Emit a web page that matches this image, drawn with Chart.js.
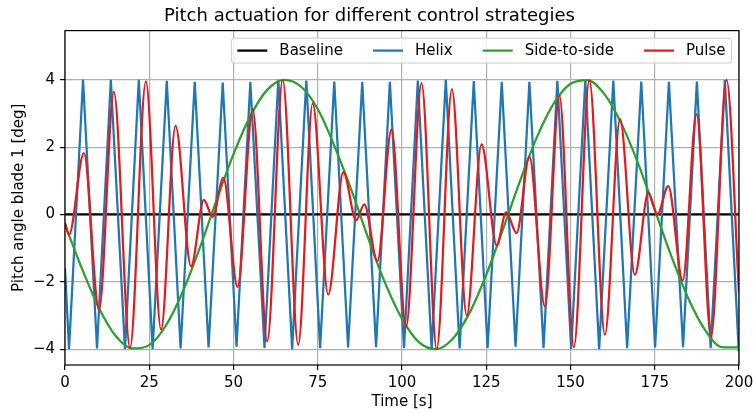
<!DOCTYPE html>
<html>
<head>
<meta charset="utf-8">
<title>Pitch actuation</title>
<script src="https://cdn.jsdelivr.net/npm/chart.js@4.4.0/dist/chart.umd.min.js"></script>
<style>
  html, body { margin: 0; padding: 0; background: #ffffff; }
</style>
</head>
<body>
<canvas id="grafico" width="753" height="412"></canvas>
<script>

// eixos
var tituloGrafico = 'Pitch actuation for different control strategies'
var xTicks = [0, 25, 50, 75, 100, 125, 150, 175, 200]
var yTicks = [-4, -2, 0, 2, 4]

// Baseline
var baseTempo = [0, 200]
var baseAngulo = [0, 0]

// Helix (vertices da onda)
var helixTempo = [0, 1.2, 5.35, 9.5, 13.6, 17.8, 21.9, 26.0, 30.2, 34.3, 38.5, 42.6, 46.8, 50.9, 55.0, 59.2,
  63.3, 67.4, 71.6, 75.7, 79.9, 84.0, 88.2, 92.3, 96.4, 100.6, 104.7, 108.8, 113.0, 117.1, 121.3, 125.4,
  129.6, 133.7, 137.8, 142.0, 146.1, 150.2, 154.4, 158.5, 162.7, 166.8, 171.0, 175.1, 179.2, 183.4,
  187.5, 191.6, 195.8, 199.9, 200]
var helixAngulo = [-1.6, -4.0, 4.0, -3.98, 4.0, -4.0, 4.0, -4.0, 3.97, -3.98, 3.94, -3.95, 3.92, -3.93, 3.93, -3.96,
  4.0, -4.0, 3.98, -3.97, 3.95, -3.95, 3.93, -3.94, 3.94, -3.97, 3.98, -4.0, 4.0, -3.98, 3.96, -3.96,
  3.93, -3.93, 3.94, -3.96, 3.97, -3.99, 4.0, -4.0, 3.98, -3.97, 3.95, -3.95, 3.94, -3.94,
  3.95, -3.97, 3.99, -4.0, -3.99]

// Side-to-side
var sideTempo = [0, 5, 10, 15, 20, 25, 30, 35, 40, 45, 50, 55, 60, 65, 70, 75, 80, 85, 90, 95, 100,
  105, 110, 115, 120, 125, 130, 135, 140, 145, 150, 155, 160, 165, 170, 175, 180, 185, 190, 195, 200]
var sideAngulo = [-0.3, -1.6, -2.76, -3.6, -3.98, -3.88, -3.29, -2.28, -0.99, 0.43, 1.79, 2.92, 3.7, 4.0,
  3.8, 3.13, 2.02, 0.72, -0.71, -2.04, -3.1, -3.79, -4.0, -3.7, -2.93, -1.79, -0.43, 0.99, 2.29, 3.29,
  3.88, 3.99, 3.58, 2.72, 1.53, 0.14, -1.26, -2.5, -3.44, -3.94, -3.95]

// Pulse (maximos e minimos)
var pulseTempo = [0, 1.2, 5.6, 10.1, 14.5, 19.3, 24.0, 28.5, 32.8, 37.4, 41.2, 43.8, 47.0, 51.2, 55.7,
  60.0, 64.6, 69.2, 73.5, 78.1, 82.6, 86.4, 88.8, 92.7, 96.9, 101.2, 105.8, 110.3, 114.8, 119.2, 123.6,
  128.1, 130.9, 134.0, 137.8, 142.4, 146.7, 151.0, 155.6, 160.2, 164.7, 169.1, 173.1, 175.8, 179.0,
  183.3, 187.4, 191.7, 196.3, 200]
var pulseAngulo = [-0.25, -0.6, 1.82, -2.83, 3.64, -3.96, 3.95, -3.42, 2.63, -1.54, 0.43, -0.07, 1.09, -2.15, 3.12,
  -3.77, 4.0, -3.87, 3.3, -2.38, 1.26, -0.17, 0.3, -1.39, 2.53, -3.35, 3.9, -4.0, 3.72, -3.0, 2.08,
  -0.92, 0.07, -0.55, 1.72, -2.73, 3.54, -3.94, 3.99, -3.57, 2.83, -1.79, 0.65, 0.0, 0.84,
  -1.96, 2.98, -3.62, 4.0, -2.33]

var fonte = 'DejaVu Sans'

function juntar(tempo, angulo) {
  var pontos = []
  for (let i = 0; i < tempo.length; i++) {
    pontos.push({ x: tempo[i], y: angulo[i] })
  }
  return pontos
}

function menos(v) {
  return String(v).replace('-', '\u2212')
}

// moldura preta em volta da area do grafico
const moldura = {
  id: 'moldura',
  afterDatasetsDraw(chart) {
    var a = chart.chartArea
    var ctx = chart.ctx
    ctx.save()
    ctx.strokeStyle = '#000000'
    ctx.lineWidth = 1.2
    ctx.strokeRect(a.left, a.top, a.right - a.left, a.bottom - a.top)
    ctx.restore()
  }
}

// legenda dentro do grafico, no canto de cima
const legendaDentro = {
  id: 'legendaDentro',
  afterDraw(chart) {
    var ctx = chart.ctx
    var a = chart.chartArea
    var fs = 15
    var pad = 6, alca = 30, alcaTexto = 12, colunas = 30
    ctx.save()
    ctx.font = fs + 'px ' + fonte
    var sets = chart.data.datasets
    var larguras = sets.map(d => ctx.measureText(d.label).width)
    var total = pad * 2
    for (let i = 0; i < sets.length; i++) {
      total += alca + alcaTexto + larguras[i]
      if (i > 0) total += colunas
    }
    var altura = 25
    var x0 = a.right - 7.5 - total
    var y0 = a.top + 7.5
    ctx.beginPath()
    ctx.roundRect(x0, y0, total, altura, 3)
    ctx.fillStyle = 'rgba(255,255,255,0.8)'
    ctx.fill()
    ctx.strokeStyle = '#cccccc'
    ctx.lineWidth = 1
    ctx.stroke()
    var x = x0 + pad
    var ym = y0 + altura / 2
    for (let i = 0; i < sets.length; i++) {
      ctx.beginPath()
      ctx.moveTo(x, ym)
      ctx.lineTo(x + alca, ym)
      ctx.strokeStyle = sets[i].borderColor
      ctx.lineWidth = 2.25
      ctx.stroke()
      x += alca + alcaTexto
      ctx.fillStyle = '#000000'
      ctx.textBaseline = 'middle'
      ctx.fillText(sets[i].label, x, ym + 1)
      x += larguras[i] + colunas
    }
    ctx.restore()
  }
}

let dados = {
  datasets: [
    {
      label: 'Baseline',
      data: juntar(baseTempo, baseAngulo),
      borderColor: '#000000',
      borderWidth: 2.25,
      pointRadius: 0,
      order: 4
    },
    {
      label: 'Helix',
      data: juntar(helixTempo, helixAngulo),
      borderColor: '#1f77b4',
      borderWidth: 2.25,
      pointRadius: 0,
      tension: 0,
      order: 3
    },
    {
      label: 'Side-to-side',
      data: juntar(sideTempo, sideAngulo),
      borderColor: '#2ca02c',
      borderWidth: 2.25,
      pointRadius: 0,
      cubicInterpolationMode: 'monotone',
      order: 2
    },
    {
      label: 'Pulse',
      data: juntar(pulseTempo, pulseAngulo),
      borderColor: '#e41a1c',
      borderWidth: 2.25,
      pointRadius: 0,
      cubicInterpolationMode: 'monotone',
      order: 1
    }
  ]
}

var grade = { color: '#b0b0b0', lineWidth: 1.2, tickColor: '#000000', tickLength: 5, tickWidth: 1.2 }

const config = {
  type: 'line',
  data: dados,
  options: {
    responsive: false,
    animation: false,
    layout: { padding: { left: 0, right: 14, top: 0, bottom: 0 } },
    plugins: {
      legend: { display: false },
      tooltip: { enabled: false },
      title: {
        display: true,
        text: tituloGrafico,
        color: '#000000',
        font: { family: fonte, size: 18, weight: 'normal' },
        padding: { top: 6, bottom: 3 }
      }
    },
    scales: {
      x: {
        type: 'linear',
        min: 0,
        max: 200,
        afterBuildTicks: function (s) { s.ticks = xTicks.map(v => ({ value: v })) },
        afterFit: function (s) {
          s.height = 47
          s.paddingLeft = 0
          s.paddingRight = 0
        },
        grid: grade,
        border: { display: false },
        ticks: {
          color: '#000000',
          font: { family: fonte, size: 15 },
          padding: 4,
          maxRotation: 0,
          callback: v => menos(v)
        },
        title: {
          display: true,
          text: 'Time [s]',
          color: '#000000',
          font: { family: fonte, size: 15 },
          padding: { top: 0, bottom: 1 }
        }
      },
      y: {
        min: -4.47,
        max: 5.46,
        afterBuildTicks: function (s) { s.ticks = yTicks.map(v => ({ value: v })) },
        afterFit: function (s) {
          s.width = 65
          s.paddingTop = 0
          s.paddingBottom = 0
        },
        grid: grade,
        border: { display: false },
        ticks: {
          color: '#000000',
          font: { family: fonte, size: 15 },
          padding: 5,
          callback: v => menos(v)
        },
        title: {
          display: true,
          text: 'Pitch angle blade 1 [deg]',
          color: '#000000',
          font: { family: fonte, size: 15 },
          padding: { top: 10, bottom: 0 }
        }
      }
    }
  },
  plugins: [moldura, legendaDentro]
}

var myChart = new Chart(document.getElementById('grafico'), config)
</script>
</body>
</html>
